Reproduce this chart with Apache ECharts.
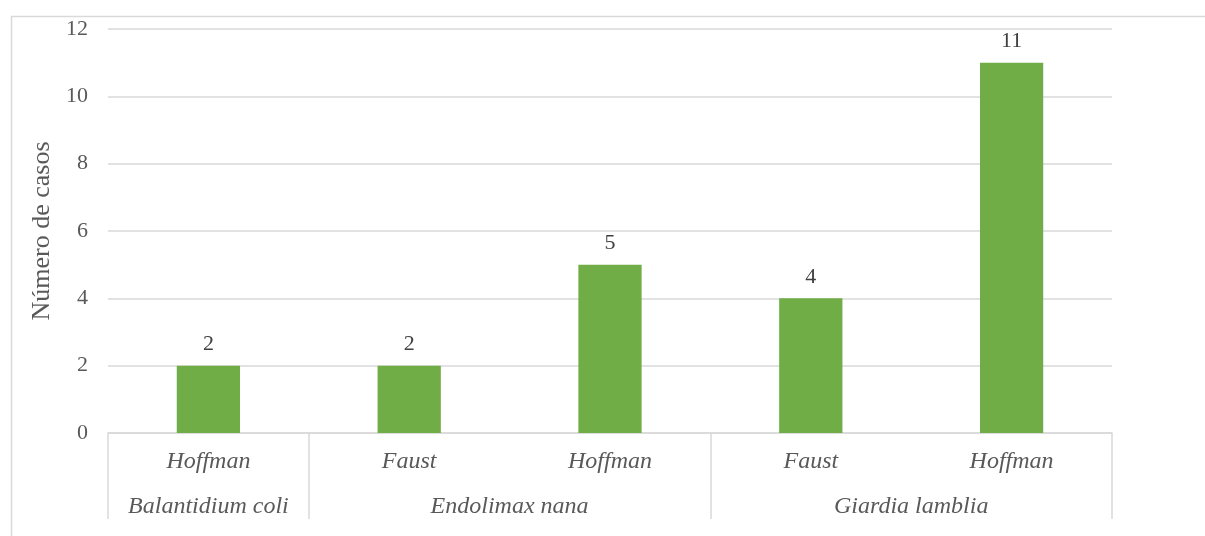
<!DOCTYPE html>
<html>
<head>
<meta charset="utf-8">
<script src="https://cdn.jsdelivr.net/npm/echarts@6/dist/echarts.min.js"></script>
<style>
  html, body { margin: 0; padding: 0; background: #fff; }
  #chart { width: 1205px; height: 536px; }
</style>
</head>
<body>
<div id="chart"></div>
<script>
// métodos (primer nivel) y parásitos (segundo nivel)
const metodos = ['Hoffman', 'Faust', 'Hoffman', 'Faust', 'Hoffman'];
const casos = [2, 2, 5, 4, 11];
const parasitos = ['Balantidium coli', 'Endolimax nana', 'Giardia lamblia'];
const grupoCentros = [0.5, 2, 4];
const grupoLimites = [0, 1, 3, 5];
const yTicks = [0, 2, 4, 6, 8, 10, 12];

const font = 'Liberation Serif';
const grey = '#d9d9d9';

const chart = echarts.init(document.getElementById('chart'));
chart.setOption({
  animation: false,
  textStyle: { fontFamily: font },
  graphic: [{
    type: 'rect',
    left: 9, top: 14,
    shape: { width: 1220, height: 540 },
    style: { fill: 'none', stroke: grey, lineWidth: 1.5 },
  }],
  grid: { left: 108, right: 93, top: 29, height: 404 },
  xAxis: [
    {
      type: 'category',
      data: metodos,
      axisTick: { show: false },
      axisLine: { lineStyle: { color: grey, width: 1.5 } },
      axisLabel: {
        color: '#595959',
        fontStyle: 'italic',
        fontSize: 24,
        fontFamily: font,
        margin: 17,
      },
    },
    {
      type: 'value',
      position: 'bottom',
      min: 0,
      max: 5,
      axisLine: { show: false },
      splitLine: { show: false },
      axisTick: {
        show: true,
        customValues: grupoLimites,
        length: 86,
        lineStyle: { color: grey, width: 1.5 },
      },
      axisLabel: {
        customValues: grupoCentros,
        formatter(v) {
          return parasitos[grupoCentros.indexOf(v)];
        },
        color: '#595959',
        fontStyle: 'italic',
        fontSize: 24,
        fontFamily: font,
        margin: 62,
      },
    },
  ],
  yAxis: {
    type: 'value',
    min: 0,
    max: 12,
    interval: 2,
    name: 'Número de casos',
    nameLocation: 'middle',
    nameGap: 52,
    nameTextStyle: { color: '#595959', fontSize: 26, fontFamily: font },
    axisLine: { show: false },
    axisTick: { show: false },
    axisLabel: {
      color: '#595959',
      fontSize: 22,
      fontFamily: font,
      margin: 20,
      formatter(v) { return yTicks.includes(v) ? String(v) : ''; },
    },
    splitLine: { lineStyle: { color: grey, width: 1.5 } },
  },
  series: [{
    type: 'bar',
    data: casos,
    barWidth: '31.5%',
    itemStyle: { color: '#70ad47' },
    label: {
      show: true,
      position: 'top',
      distance: 10,
      color: '#404040',
      fontSize: 22,
      fontFamily: font,
    },
  }],
});
</script>
</body>
</html>
